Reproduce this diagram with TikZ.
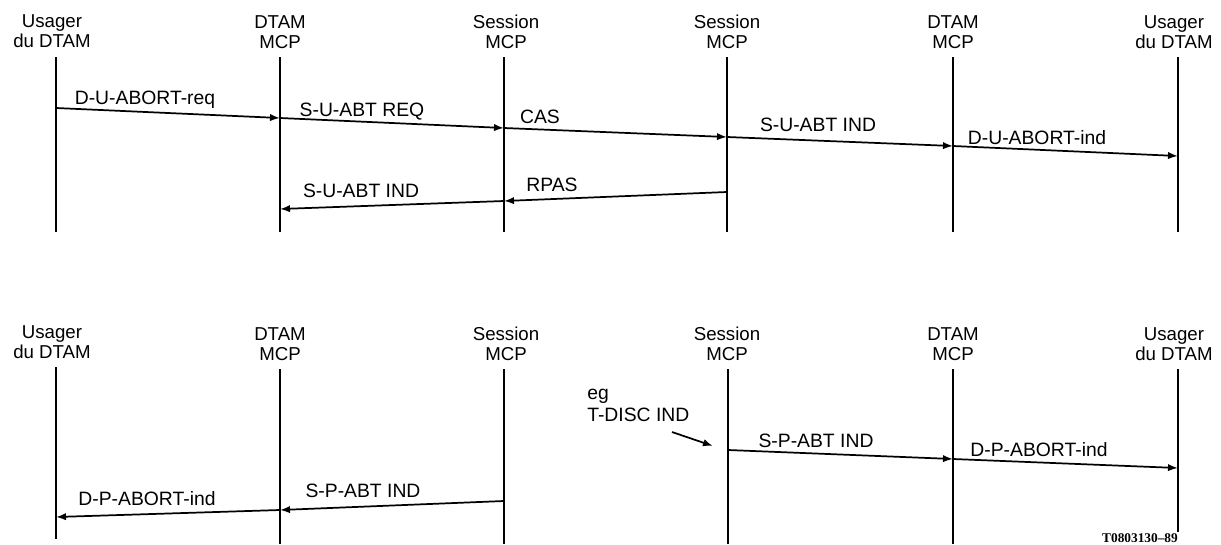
\documentclass[tikz,border=0pt]{standalone}
\usepackage{fontspec}
\setmainfont{Liberation Sans}
\newfontfamily\refserif{Liberation Serif}
\usetikzlibrary{arrows.meta}
\begin{document}
\begin{tikzpicture}[x=0.75pt,y=-0.75pt,
  life/.style={line width=1.2pt},
  msg/.style={line width=1.3pt,-{Latex[length=7.5pt,width=5.5pt]}},
  head/.style={align=center,anchor=base,inner sep=0pt,font=\fontsize{14}{15}\selectfont},
  lab/.style={anchor=base,inner sep=0pt,font=\fontsize{14.5}{16}\selectfont},
  note/.style={anchor=base west,inner sep=0pt,font=\fontsize{14.5}{16}\selectfont},
  ref/.style={anchor=base,inner sep=0pt,font=\refserif\bfseries\fontsize{10}{12}\selectfont}]
\useasboundingbox (0,0) rectangle (1221,544);

% ---------- top diagram ----------
\node[head] (hU1) at (52,47)  {Usager\\du DTAM};
\node[head] (hD1) at (280,48) {DTAM\\MCP};
\node[head] (hS1) at (506,48) {Session\\MCP};
\node[head] (hS2) at (727,48) {Session\\MCP};
\node[head] (hD2) at (953,48) {DTAM\\MCP};
\node[head] (hU2) at (1174,48){Usager\\du DTAM};

\coordinate (U1t) at (56,57);   \coordinate (U1b) at (56,232);
\coordinate (D1t) at (280,57);  \coordinate (D1b) at (280,232);
\coordinate (S1t) at (504,57);  \coordinate (S1b) at (504,232);
\coordinate (S2t) at (727,57);  \coordinate (S2b) at (727,232);
\coordinate (D2t) at (953,57);  \coordinate (D2b) at (953,232);
\coordinate (U2t) at (1178,57); \coordinate (U2b) at (1178,232);
\foreach \l in {U1,D1,S1,S2,D2,U2} \draw[life] (\l t) -- (\l b);

\coordinate (a0) at (56,108);
\coordinate (a1) at (280,118);
\coordinate (a2) at (504,128);
\coordinate (a3) at (727,137);
\coordinate (a4) at (953,146);
\coordinate (a5) at (1178,156);
\draw[msg] (a0) -- (a1);
\draw[msg] (a1) -- (a2);
\draw[msg] (a2) -- (a3);
\draw[msg] (a3) -- (a4);
\draw[msg] (a4) -- (a5);
\node[lab] (l1) at (145,104) {D-U-ABORT-req};
\node[lab] (l2) at (362,116) {S-U-ABT REQ};
\node[lab] (l3) at (540,123) {CAS};
\node[lab] (l4) at (818,131) {S-U-ABT IND};
\node[lab] (l5) at (1037,144) {D-U-ABORT-ind};

\coordinate (r0) at (727,192);
\coordinate (r1) at (504,201);
\coordinate (r2) at (280,209);
\draw[msg] (r0) -- (r1);
\draw[msg] (r1) -- (r2);
\node[lab] (l6) at (552,191) {RPAS};
\node[lab] (l7) at (361,197) {S-U-ABT IND};

% ---------- bottom diagram ----------
\node[head] (gU1) at (52,358)  {Usager\\du DTAM};
\node[head] (gD1) at (280,360) {DTAM\\MCP};
\node[head] (gS1) at (506,360) {Session\\MCP};
\node[head] (gS2) at (727,360) {Session\\MCP};
\node[head] (gD2) at (953,360) {DTAM\\MCP};
\node[head] (gU2) at (1174,360){Usager\\du DTAM};

\coordinate (V1t) at (56,367);   \coordinate (V1b) at (56,539);
\coordinate (E1t) at (280,369);  \coordinate (E1b) at (280,544);
\coordinate (T1t) at (504,369);  \coordinate (T1b) at (504,544);
\coordinate (T2t) at (728,369);  \coordinate (T2b) at (728,544);
\coordinate (E2t) at (953,369);  \coordinate (E2b) at (953,544);
\coordinate (V2t) at (1178,369); \coordinate (V2b) at (1178,532);
\foreach \l in {V1,E1,T1,T2,E2,V2} \draw[life] (\l t) -- (\l b);

\coordinate (b0) at (504,501);
\coordinate (b1) at (280,510);
\coordinate (b2) at (56,517);
\draw[msg] (b0) -- (b1);
\draw[msg] (b1) -- (b2);
\node[lab] (m1) at (363,497) {S-P-ABT IND};
\node[lab] (m2) at (147,505) {D-P-ABORT-ind};

\coordinate (c0) at (728,450);
\coordinate (c1) at (953,459);
\coordinate (c2) at (1178,468);
\draw[msg] (c0) -- (c1);
\draw[msg] (c1) -- (c2);
\node[lab] (m3) at (816,447) {S-P-ABT IND};
\node[lab] (m4) at (1039,456) {D-P-ABORT-ind};

\node[note] (eg) at (587,399) {eg};
\node[note] (td) at (587,421) {T-DISC IND};
\coordinate (e0) at (672,432);
\coordinate (e1) at (713,446);
\draw[msg] (e0) -- (e1);

\node[ref] (tag) at (1140,542) {T0803130–89};
\end{tikzpicture}
\end{document}
